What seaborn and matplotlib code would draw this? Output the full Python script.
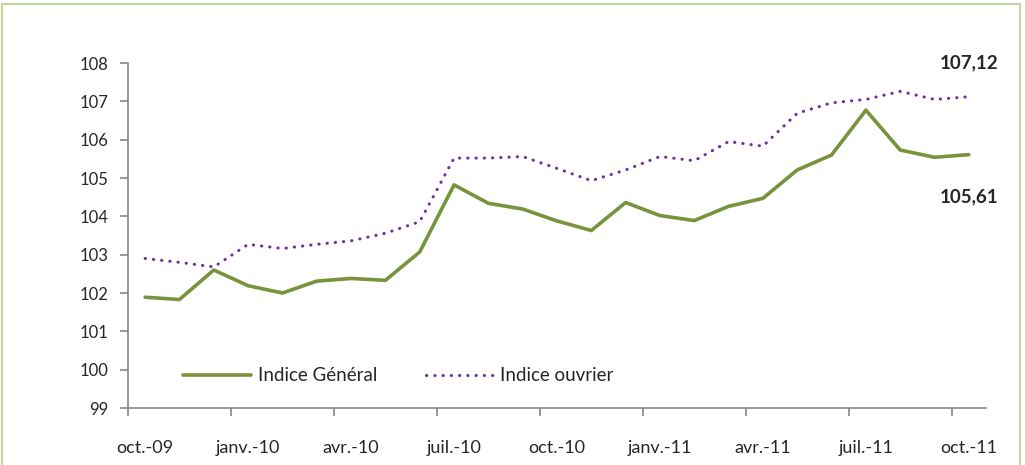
import numpy as np
import pandas as pd
import matplotlib.pyplot as plt
import seaborn as sns
from matplotlib.patches import Rectangle

months = ['oct.-09', 'nov.-09', 'déc.-09', 'janv.-10', 'févr.-10', 'mars-10', 'avr.-10',
          'mai-10', 'juin-10', 'juil.-10', 'août-10', 'sept.-10', 'oct.-10', 'nov.-10',
          'déc.-10', 'janv.-11', 'févr.-11', 'mars-11', 'avr.-11', 'mai-11', 'juin-11',
          'juil.-11', 'août-11', 'sept.-11', 'oct.-11']
indice_general = [101.89, 101.83, 102.60, 102.19, 102.00, 102.31, 102.38, 102.33, 103.07,
                  104.82, 104.34, 104.19, 103.88, 103.63, 104.36, 104.02, 103.89, 104.26,
                  104.47, 105.21, 105.60, 106.77, 105.73, 105.54, 105.61]
indice_ouvrier = [102.90, 102.80, 102.68, 103.27, 103.16, 103.27, 103.36, 103.56, 103.86,
                  105.52, 105.52, 105.56, 105.25, 104.93, 105.21, 105.56, 105.45, 105.95,
                  105.83, 106.69, 106.96, 107.05, 107.26, 107.05, 107.12]

df = pd.DataFrame({'mois': np.arange(len(months)),
                   'Indice Général': indice_general,
                   'Indice ouvrier': indice_ouvrier})

sns.set_style('white')
plt.rcParams['font.family'] = ['Lato', 'DejaVu Sans']

fig = plt.figure(figsize=(10.25, 4.65), dpi=100)
ax = fig.add_axes([128 / 1025, 1 - 408 / 465, 858 / 1025, 345 / 465])

sns.lineplot(data=df, x='mois', y='Indice Général', ax=ax, color='#77933C',
             linewidth=2.6, label='Indice Général')
sns.lineplot(data=df, x='mois', y='Indice ouvrier', ax=ax, color='#7030A0',
             linewidth=2.2, linestyle=(0, (0.1, 2.6)), dash_capstyle='round',
             label='Indice ouvrier')

ax.set_xlim(-0.5, len(months) - 0.5)
ax.set_ylim(99, 108)
ax.set_yticks(range(99, 109))
ax.set_xticks(range(0, len(months), 3))
ax.set_xticklabels(months[::3])
ax.set_xticks(np.arange(-0.5, len(months) - 1, 3), minor=True)
ax.tick_params(axis='x', which='major', bottom=True, length=0, pad=23, labelsize=13)
ax.tick_params(axis='x', which='minor', bottom=True, length=6, width=1.2,
               color='#888888', direction='out')
ax.tick_params(axis='y', left=True, length=6, width=1.2, color='#888888',
               direction='out', labelsize=12, pad=8)
ax.set_xlabel('')
ax.set_ylabel('')
for side in ['top', 'right']:
    ax.spines[side].set_visible(False)
for side in ['left', 'bottom']:
    ax.spines[side].set_color('#888888')
    ax.spines[side].set_linewidth(1.2)

ax.text(len(months) - 1, 108.0, '107,12', ha='center', va='center',
        fontsize=13.5, fontweight='bold')
ax.text(len(months) - 1, 104.5, '105,61', ha='center', va='center',
        fontsize=13.5, fontweight='bold')

ax.legend(loc='center left', bbox_to_anchor=(0.045, 0.093), ncol=2, frameon=False,
          fontsize=13.5, handlelength=3.6, columnspacing=2.6, handletextpad=0.35)

fig.patches.append(Rectangle((2 / 1025, -0.02), 1018 / 1025, 1.012,
                             transform=fig.transFigure, fill=False,
                             edgecolor='#C3D69B', linewidth=1.5))

fig.savefig('out.png', dpi=100)
